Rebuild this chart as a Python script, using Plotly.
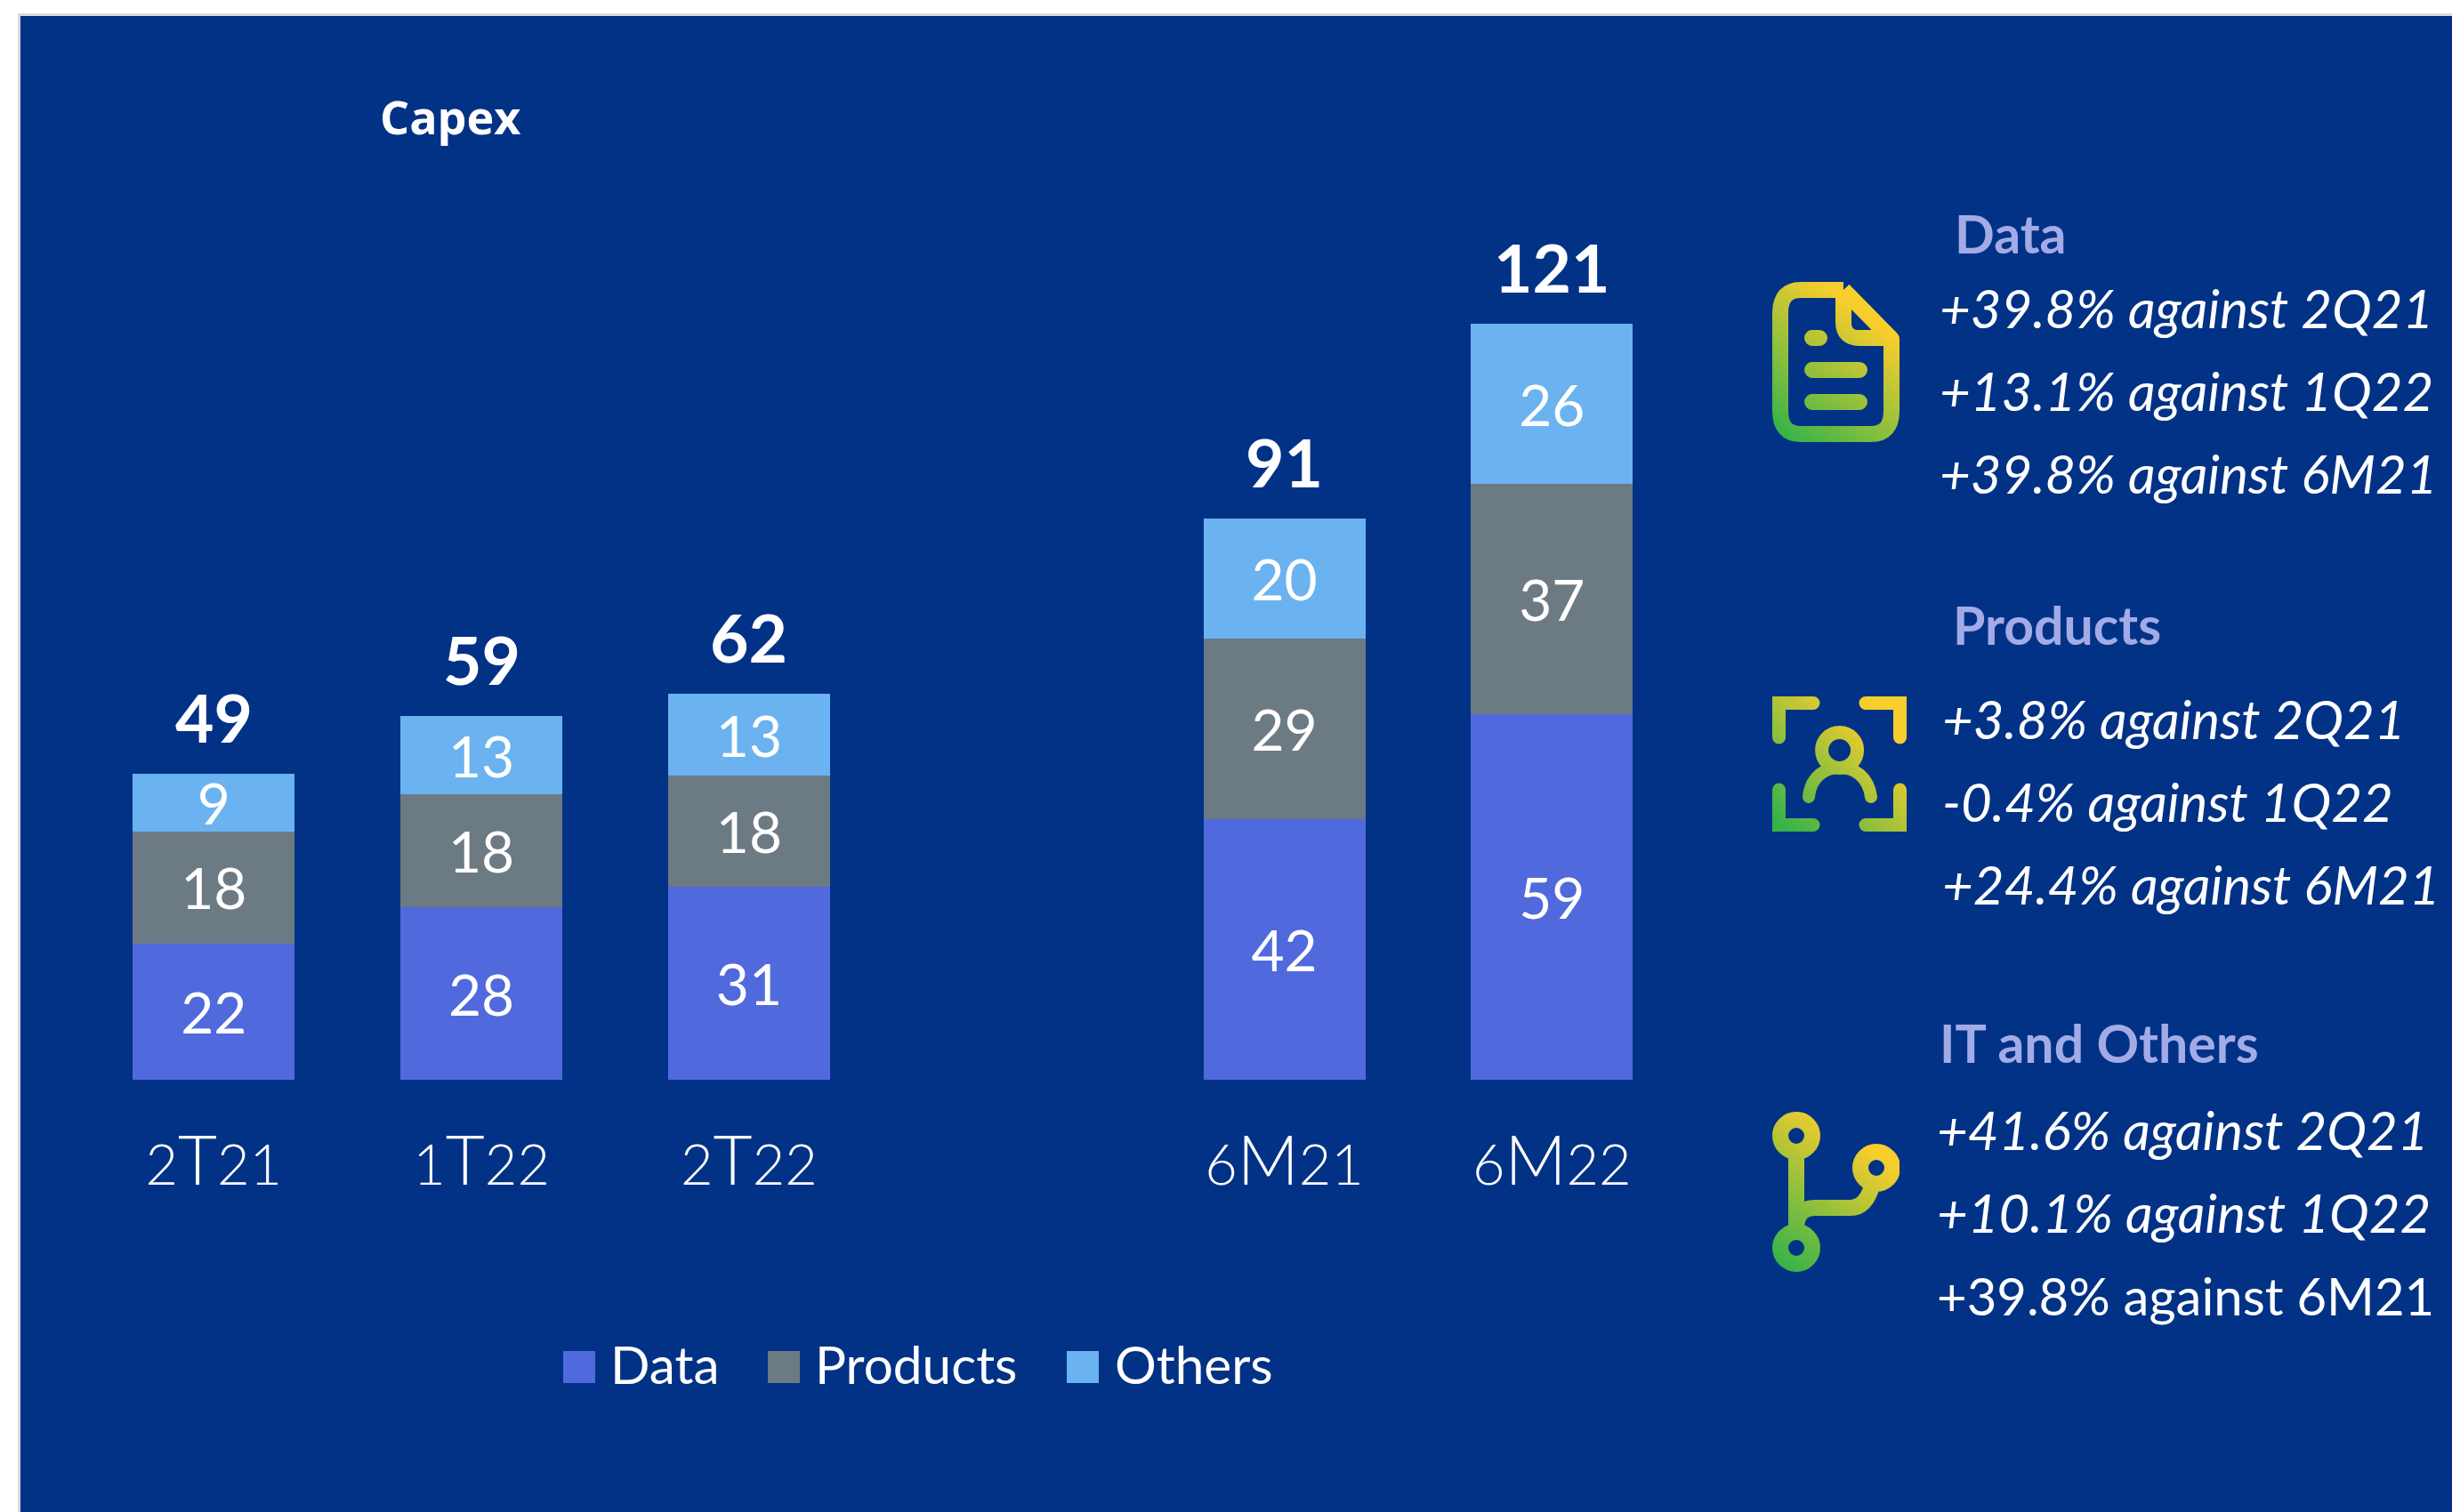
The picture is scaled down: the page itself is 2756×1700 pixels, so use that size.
import base64
import plotly.graph_objects as go

# ---------- data ----------
categories = ["2T21", "1T22", "2T22", " ", "6M21", "6M22"]
data_values = [22.0, 27.8, 31.1, None, 42.0, 59.0]
products_values = [18.0, 18.2, 18.0, None, 29.1, 37.1]
others_values = [9.4, 12.7, 13.1, None, 19.5, 25.8]
data_labels = ["22", "28", "31", "", "42", "59"]
products_labels = ["18", "18", "18", "", "29", "37"]
others_labels = ["9", "13", "13", "", "20", "26"]
total_labels = ["49", "59", "62", "", "91", "121"]
series_names = ["Data", "Products", "Others"]

# ---------- style ----------
W, H = 2756, 1700
BG = "#023286"
C_DATA, C_PROD, C_OTH = "#5069DC", "#6C7A83", "#6BB2F0"
HEAD = "#A3ABE6"
FONT = "Lato"


def px(x):
    return x / W


def py(y):
    return 1 - y / H


PITCH = 300.8
X0 = 240.3
PLOT_L, PLOT_R = X0 - PITCH / 2, X0 + PITCH * 5.5
BASE, TOP = 1214, 250
PX_PER_UNIT = 6.97

fig = go.Figure()
for name, vals, labs, col in zip(series_names,
                                 [data_values, products_values, others_values],
                                 [data_labels, products_labels, others_labels],
                                 [C_DATA, C_PROD, C_OTH]):
    fig.add_trace(go.Bar(
        x=categories, y=vals, name=name, marker=dict(color=col, line=dict(width=0)),
        text=labs, textposition="inside", insidetextanchor="middle", textangle=0,
        constraintext="none", insidetextfont=dict(family=FONT, size=64, color="white"),
        showlegend=False, hoverinfo="x+y+name",
    ))

annotations = []


def note(x, y, text, size, color="white", bold=False, italic=False, anchor="left", family=FONT):
    t = text
    if bold:
        t = f"<b>{t}</b>"
    if italic:
        t = f"<i>{t}</i>"
    annotations.append(dict(xref="paper", yref="paper", x=px(x), y=py(y), text=t, showarrow=False,
                            xanchor=anchor, yanchor="middle", align="left",
                            font=dict(family=family, size=size, color=color),
                            borderpad=0, borderwidth=0))


# totals above the stacks
for i, lab in enumerate(total_labels):
    if lab:
        top = data_values[i] + products_values[i] + others_values[i]
        annotations.append(dict(xref="x", yref="y", x=categories[i], y=top, text=f"<b>{lab}</b>",
                                showarrow=False, yanchor="middle", yshift=64,
                                font=dict(family=FONT, size=75, color="white")))

note(427, 131, "<b>Capex</b>", 52, family="Open Sans")

# legend
shapes = [
    dict(type="rect", xref="paper", yref="paper", x0=px(20), x1=1, y0=0, y1=py(15),
         fillcolor="#D9D9D9", line=dict(width=0), layer="below"),
    dict(type="rect", xref="paper", yref="paper", x0=px(23), x1=1, y0=0, y1=py(18),
         fillcolor=BG, line=dict(width=0), layer="below"),
]
legend_swatch_x = [633, 863, 1199]
legend_text_x = [686, 916, 1253]
for sx, tx, name, col in zip(legend_swatch_x, legend_text_x, series_names, [C_DATA, C_PROD, C_OTH]):
    shapes.append(dict(type="rect", xref="paper", yref="paper", x0=px(sx), x1=px(sx + 36),
                       y0=py(1555), y1=py(1519), fillcolor=col, line=dict(width=0)))
    note(tx, 1533, name, 58.5)

# side notes
note(2197, 263, "<b>Data</b>", 59, color=HEAD)
for y, t in zip([346, 439, 532], ["+39.8% against 2Q21", "+13.1% against 1Q22", "+39.8% against 6M21"]):
    note(2180, y, t, 60, italic=True)
note(2195, 702, "<b>Products</b>", 59, color=HEAD)
for y, t in zip([808, 901, 994], ["+3.8% against 2Q21", "-0.4% against 1Q22", "+24.4% against 6M21"]):
    note(2183, y, t, 60, italic=True)
note(2180, 1172, "<b>IT and Others</b>", 59, color=HEAD)
for y, t, it, s in zip([1270, 1363, 1456], ["+41.6% against 2Q21", "+10.1% against 1Q22", "+39.8% against 6M21"],
                       [True, True, False], [60, 60, 58]):
    note(2177, y, t, s, italic=it)


# icons (gradient strokes as inline SVG)
def svg_uri(w, h, body):
    grad = (f'<defs><linearGradient id="g" gradientUnits="userSpaceOnUse" x1="8" y1="{h-8}" x2="{w-8}" y2="8">'
            '<stop offset="0" stop-color="#35B34A"/><stop offset="0.8" stop-color="#F8CE2C"/>'
            '</linearGradient></defs>')
    svg = (f'<svg xmlns="http://www.w3.org/2000/svg" width="{w}" height="{h}" viewBox="0 0 {w} {h}">{grad}'
           f'<g fill="none" stroke="url(#g)">{body}</g></svg>')
    return "data:image/svg+xml;base64," + base64.b64encode(svg.encode()).decode()


icon_doc = ('<g stroke-width="18" stroke-linejoin="round">'
            '<path d="M80 9H32Q9 9 9 35V145Q9 171 32 171H111Q134 171 134 145V64L80 9"/>'
            '<path d="M80 9V45Q80 63 98 63H134"/></g>'
            '<g stroke-width="18" stroke-linecap="round">'
            '<path d="M45 63H53M45 99H98M45 135H98"/></g>')
icon_person = ('<g stroke-width="15" stroke-linecap="round" stroke-linejoin="miter">'
               '<path d="M7.5 46V7.5H46M105 7.5H143.5V46M7.5 105V144.5H46M105 144.5H143.5V105"/></g>'
               '<circle cx="75.6" cy="60.5" r="20" stroke-width="15"/>'
               '<path stroke-width="14" stroke-linecap="round" d="M41 113C43 90 60 80 75.6 80C92 80 108 90 111 113"/>')
icon_branch = ('<g stroke-width="18">'
               '<circle cx="27" cy="27" r="18"/><circle cx="117" cy="63" r="18"/><circle cx="27" cy="153" r="18"/>'
               '<path d="M27 45V135"/>'
               '<path d="M27 132Q27 108 48 108H88Q106 108 113 80"/></g>')

images = []
for x, y, w, h, body in [(1992, 317, 143, 180, icon_doc), (1992, 783, 151, 152, icon_person),
                         (1992, 1250, 143, 180, icon_branch)]:
    images.append(dict(source=svg_uri(w, h, body), xref="paper", yref="paper", x=px(x), y=py(y),
                       sizex=w / W, sizey=h / H, xanchor="left", yanchor="top", sizing="stretch", layer="above"))


def tick_html(s):
    return "".join(f'<span style="font-size:63px">{c}</span>' if c.isdigit() else c for c in s)


fig.update_layout(
    width=W, height=H, margin=dict(l=0, r=0, t=0, b=0), autosize=False,
    paper_bgcolor="white", plot_bgcolor="rgba(0,0,0,0)", barmode="stack", bargap=1 - 182 / PITCH,
    showlegend=False, shapes=shapes, annotations=annotations, images=images,
    font=dict(family=FONT, color="white"),
    xaxis=dict(domain=[px(PLOT_L), px(PLOT_R)], type="category", categoryorder="array",
               categoryarray=categories, range=[-0.5, 5.5], tickmode="array", tickvals=categories,
               ticktext=[tick_html(c) for c in categories],
               tickfont=dict(family="Lato Light, Lato", size=76, color="white"),
               showgrid=False, showline=False, zeroline=False, ticks="", ticklabelstandoff=41),
    yaxis=dict(domain=[py(BASE), py(TOP)], range=[0, (BASE - TOP) / PX_PER_UNIT], visible=False),
)
fig.write_html("out.html", config={"displayModeBar": False},
               post_script="document.body.style.margin='0';document.body.style.overflow='hidden';")
